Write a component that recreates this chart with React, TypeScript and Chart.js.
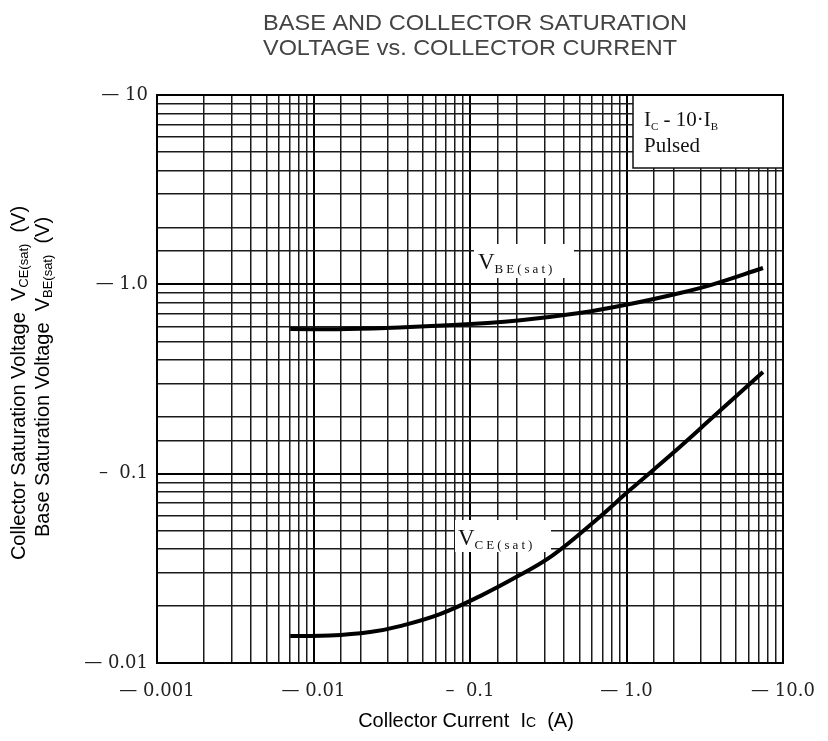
import React, { useEffect, useRef } from "react";
import { Chart, registerables } from "chart.js";

Chart.register(...registerables);

// ---- data ----
const titleLines = ["BASE AND COLLECTOR SATURATION", "VOLTAGE vs. COLLECTOR CURRENT"];

const icVbe = [0.0071, 0.0164, 0.078, 0.21, 0.5, 1.05, 2.2, 3.57, 7.45];
const vbeSat = [0.58, 0.58, 0.61, 0.647, 0.705, 0.787, 0.9, 1.0, 1.22];

const icVce = [0.0071, 0.0127, 0.023, 0.0357, 0.0643, 0.116, 0.208, 0.339, 0.648, 1.05, 1.98, 3.57, 7.45];
const vceSat = [0.0139, 0.01396, 0.01457, 0.01567, 0.01813, 0.02256, 0.02912, 0.03715, 0.0575, 0.0819, 0.1285, 0.199, 0.344];

const xTickValues = [0.001, 0.01, 0.1, 1, 10];
const xTickLabels = ["\u2014 0.001", "\u2014 0.01", "\u2013  0.1", "\u2014 1.0", "\u2014 10.0"];
const yTickValues = [0.01, 0.1, 1, 10];
const yTickLabels = ["\u2014 0.01", "\u2013  0.1", "\u2014 1.0", "\u2014 10"];

type Seg = { t: string; sub?: boolean };

const isDecade = (v: number) => {
  const l = Math.log10(v);
  return Math.abs(l - Math.round(l)) < 1e-6;
};

const labelFor = (v: number, vals: number[], labels: string[]) => {
  for (let i = 0; i < vals.length; i++) {
    if (Math.abs(Math.log10(v) - Math.log10(vals[i])) < 1e-6) return labels[i];
  }
  return "";
};

function setFont(ctx: CanvasRenderingContext2D, s: Seg, size: number, subSize: number, family: string, subSpacing: number) {
  ctx.font = `${s.sub ? subSize : size}px ${family}`;
  (ctx as any).letterSpacing = s.sub ? `${subSpacing}px` : "0px";
}

function segsWidth(ctx: CanvasRenderingContext2D, segs: Seg[], size: number, subSize: number, family: string, subSpacing: number) {
  let w = 0;
  for (const s of segs) {
    setFont(ctx, s, size, subSize, family, subSpacing);
    w += ctx.measureText(s.t).width;
  }
  return w;
}

function drawSegs(
  ctx: CanvasRenderingContext2D,
  segs: Seg[],
  x: number,
  y: number,
  size: number,
  subSize: number,
  family: string,
  align: "left" | "center",
  subDy: number,
  color: string,
  subSpacing = 0
) {
  const w = segsWidth(ctx, segs, size, subSize, family, subSpacing);
  let cx = align === "center" ? x - w / 2 : x;
  ctx.fillStyle = color;
  ctx.textAlign = "left";
  ctx.textBaseline = "alphabetic";
  for (const s of segs) {
    setFont(ctx, s, size, subSize, family, subSpacing);
    ctx.fillText(s.t, cx, y + (s.sub ? subDy : 0));
    cx += ctx.measureText(s.t).width;
  }
  (ctx as any).letterSpacing = "0px";
}

const SANS = "'Liberation Sans', Arial, sans-serif";
const SERIF = "'Liberation Serif', 'DejaVu Serif', serif";

const deco = {
  id: "deco",
  beforeDatasetsDraw(chart: any) {
    const ctx: CanvasRenderingContext2D = chart.ctx;
    const a = chart.chartArea;
    ctx.save();
    ctx.fillStyle = "#fff";
    ctx.fillRect(a.left + 317, a.top + 149, 100, 34);
    ctx.fillRect(a.left + 298, a.top + 425, 96, 32);
    ctx.restore();
  },
  afterDatasetsDraw(chart: any) {
    const ctx: CanvasRenderingContext2D = chart.ctx;
    const a = chart.chartArea;
    ctx.save();

    // curve labels
    drawSegs(ctx, [{ t: "V" }, { t: "BE(sat)", sub: true }], a.left + 321, a.top + 174, 23, 13, SERIF, "left", 4, "#111", 3);
    drawSegs(ctx, [{ t: "V" }, { t: "CE(sat)", sub: true }], a.left + 301, a.top + 450, 23, 13, SERIF, "left", 4, "#111", 3);

    // annotation box
    const bx = a.right - 150;
    const by = a.top;
    ctx.fillStyle = "#fff";
    ctx.fillRect(bx, by, 152, 73);
    ctx.strokeStyle = "#111";
    ctx.lineWidth = 1.5;
    ctx.strokeRect(bx, by, 150, 73);
    drawSegs(
      ctx,
      [{ t: "I" }, { t: "C", sub: true }, { t: " - 10\u00b7I" }, { t: "B", sub: true }],
      bx + 11,
      by + 31,
      21,
      11,
      SERIF,
      "left",
      4,
      "#111"
    );
    drawSegs(ctx, [{ t: "Pulsed" }], bx + 11, by + 57, 21, 11, SERIF, "left", 0, "#111");

    // plot frame
    ctx.strokeStyle = "#000";
    ctx.lineWidth = 2;
    ctx.strokeRect(a.left, a.top, a.right - a.left, a.bottom - a.top);

    // title (condensed plotter-like lettering)
    const widths = [424, 414];
    const ys = [22, 47];
    const tx = a.left + 106;
    ctx.fillStyle = "#444";
    ctx.textBaseline = "alphabetic";
    ctx.textAlign = "left";
    titleLines.forEach((line, i) => {
      ctx.font = `22px ${SANS}`;
      const w = ctx.measureText(line).width;
      const sx = widths[i] / w;
      ctx.save();
      ctx.translate(tx, ys[i]);
      ctx.scale(sx, 1);
      ctx.fillText(line, 0, 0);
      ctx.restore();
    });

    // y axis titles (rotated)
    const yLines: Seg[][] = [
      [{ t: "Collector Saturation Voltage  V" }, { t: "CE(sat)", sub: true }, { t: "  (V)" }],
      [{ t: "Base Saturation Voltage  V" }, { t: "BE(sat)", sub: true }, { t: "  (V)" }],
    ];
    const yX = [17, 41];
    const yC = [375, 369];
    yLines.forEach((segs, i) => {
      ctx.save();
      ctx.translate(yX[i], yC[i]);
      ctx.rotate(-Math.PI / 2);
      drawSegs(ctx, segs, 0, 0, 20, 13, SANS, "center", 3, "#000");
      ctx.restore();
    });

    // x axis title
    drawSegs(
      ctx,
      [{ t: "Collector Current  I" }, { t: "C", sub: true }, { t: "  (A)" }],
      (a.left + a.right) / 2 - 4,
      a.bottom + 64,
      20,
      14,
      SANS,
      "center",
      0,
      "#000"
    );

    ctx.restore();
  },
};

export default function App() {
  const ref = useRef<HTMLCanvasElement | null>(null);

  useEffect(() => {
    if (!ref.current) return;
    const gridColor = (c: any) => (c.tick && isDecade(c.tick.value) ? "#000" : "#1a1a1a");
    const gridWidth = (c: any) => (c.tick && isDecade(c.tick.value) ? 2 : 1.5);
    const tickFont = { family: "'DejaVu Serif', serif", size: 18 };
    const chart = new Chart(ref.current, {
      type: "line",
      data: {
        datasets: [
          {
            label: "VBE(sat)",
            data: icVbe.map((x, i) => ({ x, y: vbeSat[i] })),
            borderColor: "#000",
            borderWidth: 4,
            pointRadius: 0,
            tension: 0.4,
            fill: false,
          },
          {
            label: "VCE(sat)",
            data: icVce.map((x, i) => ({ x, y: vceSat[i] })),
            borderColor: "#000",
            borderWidth: 4,
            pointRadius: 0,
            tension: 0.4,
            fill: false,
          },
        ],
      },
      options: {
        responsive: false,
        animation: false,
        layout: { padding: { top: 87, right: 37, left: 0, bottom: 0 } },
        plugins: {
          legend: { display: false },
          tooltip: { enabled: false },
          title: { display: false },
        },
        scales: {
          x: {
            type: "logarithmic",
            min: 0.001,
            max: 10,
            afterFit: (s: any) => {
              s.height = 70;
              s.paddingLeft = 0;
              s.paddingRight = 0;
            },
            grid: { color: gridColor, lineWidth: gridWidth, drawTicks: false },
            border: { display: true, color: "#000", width: 2 },
            ticks: {
              autoSkip: false,
              maxRotation: 0,
              minRotation: 0,
              padding: 18,
              color: "#222",
              font: tickFont,
              callback: (v: any) => labelFor(Number(v), xTickValues, xTickLabels),
            },
          },
          y: {
            type: "logarithmic",
            min: 0.01,
            max: 10,
            afterFit: (s: any) => {
              s.width = 149;
              s.paddingTop = 0;
              s.paddingBottom = 0;
            },
            grid: { color: gridColor, lineWidth: gridWidth, drawTicks: false },
            border: { display: true, color: "#000", width: 2 },
            ticks: {
              autoSkip: false,
              padding: 9,
              color: "#222",
              font: tickFont,
              callback: (v: any) => labelFor(Number(v), yTickValues, yTickLabels),
            },
          },
        },
      } as any,
      plugins: [deco],
    });
    return () => chart.destroy();
  }, []);

  return (
    <div style={{ width: 812, height: 725 }}>
      <canvas ref={ref} width={812} height={725} style={{ display: "block" }} />
    </div>
  );
}
